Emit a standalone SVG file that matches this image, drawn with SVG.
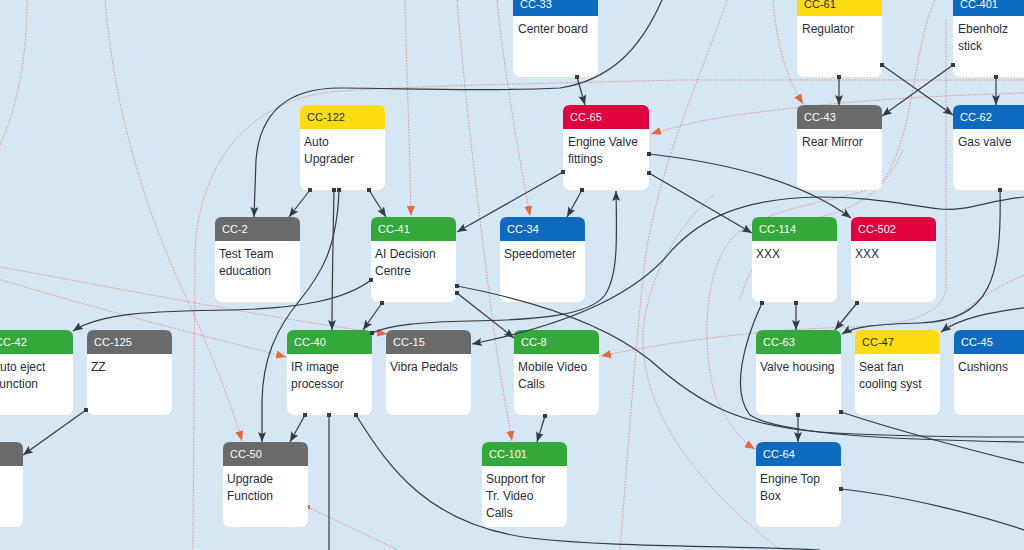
<svg xmlns="http://www.w3.org/2000/svg" width="1024" height="550" viewBox="0 0 1024 550">
<defs>
<style>
.bg{fill:#d5e6f4}
.body{fill:#ffffff}
.hd{font-family:"Liberation Sans",Arial,sans-serif;font-size:11px;fill:#ffffff}
.hdk{font-family:"Liberation Sans",Arial,sans-serif;font-size:11px;fill:#1c2b41}
.tx{font-family:"Liberation Sans",Arial,sans-serif;font-size:12px;fill:#1f2d45}
.green{fill:#35a83b}.gray{fill:#6a6a6a}.blue{fill:#0d6abf}.red{fill:#e0003b}.yellow{fill:#fedc10}
.bl{fill:none;stroke:#333a44;stroke-width:1.2;marker-start:url(#sq);marker-end:url(#ab)}
.bln{fill:none;stroke:#333a44;stroke-width:1.2;marker-start:url(#sq)}
.rd{fill:none;stroke:#e58a78;stroke-width:0.9;stroke-dasharray:1.6 1.4}
.rda{fill:none;stroke:#e58a78;stroke-width:0.9;stroke-dasharray:1.6 1.4;marker-end:url(#ar)}
</style>
<marker id="ab" viewBox="0 0 10 8" refX="10" refY="4" markerWidth="10" markerHeight="8" markerUnits="userSpaceOnUse" orient="auto"><path d="M0,0 L10,4 L0,8 L2,4 Z" fill="#333a44"/></marker>
<marker id="ar" viewBox="0 0 10 8" refX="10" refY="4" markerWidth="10" markerHeight="8" markerUnits="userSpaceOnUse" orient="auto"><path d="M0,0 L10,4 L0,8 Z" fill="#e8663f"/></marker>
<marker id="sq" viewBox="0 0 4 4" refX="2" refY="2" markerWidth="4" markerHeight="4" markerUnits="userSpaceOnUse"><rect width="4" height="4" fill="#333a44"/></marker>
<marker id="sqr" viewBox="0 0 4 4" refX="2" refY="2" markerWidth="4" markerHeight="4" markerUnits="userSpaceOnUse"><rect width="4" height="4" fill="#e8663f"/></marker>
</defs>
<rect class="bg" x="0" y="0" width="1024" height="550"/>

<g id="connectors-dotted">
<path class="rda" d="M405,0 C407,80 410,160 411,216"/>
<path class="rda" d="M497,0 C505,80 520,160 530,216"/>
<path class="rda" d="M773,0 C776,40 785,75 803,104"/>
<path class="rda" d="M1024,93 C950,95 850,100 760,112 C710,118 680,125 651,134"/>
<path class="rd" d="M1024,80 L680,80 C520,84 400,86 330,92 C250,102 200,160 195,250 L193,550"/>
<path class="rda" d="M-5,278 C100,310 200,335 286,357"/>
<path class="rda" d="M-5,266 C100,285 250,315 387,334"/>
<path class="rda" d="M105,0 C115,120 150,220 185,295 C210,350 230,400 242,441"/>
<path class="rd" d="M308,507 L398,550" style="marker-start:url(#sqr)"/>
<path class="rda" d="M457,0 C465,100 480,220 490,300 C497,360 505,400 512,441"/>
<path class="rda" d="M946,20 L946,290 C940,315 910,325 850,327 C760,330 680,340 601,356"/>
<path class="rda" d="M935,0 C912,50 915,140 880,185 C850,200 770,205 735,235 C705,265 700,340 715,395 C725,420 740,440 755,449"/>
<path class="rd" d="M727,0 C700,80 660,160 645,260 C635,350 628,450 620,550"/>
<path class="rd" d="M713,195 C680,225 650,270 643,330 C640,400 680,470 780,550"/>
<path class="rd" d="M1024,275 C990,290 960,310 942,332"/>
<path class="rd" d="M27,0 C27,50 20,100 0,145"/>
<path class="rd" d="M903,150 C890,180 870,205 820,217 C780,225 750,260 740,300"/>
</g>

<g id="n-cc33"><rect class="body" x="513" y="-8" width="85" height="85" rx="7"/><path class="blue" d="M513,16 V-1 Q513,-8 520,-8 H591 Q598,-8 598,-1 V16 Z"/><text class="hd" x="520" y="8">CC-33</text><text class="tx" x="518" y="33">Center board</text></g>
<g id="n-cc61"><rect class="body" x="797" y="-8" width="85" height="85" rx="7"/><path class="yellow" d="M797,16 V-1 Q797,-8 804,-8 H875 Q882,-8 882,-1 V16 Z"/><text class="hdk" x="804" y="8">CC-61</text><text class="tx" x="802" y="33">Regulator</text></g>
<g id="n-cc401"><rect class="body" x="953" y="-8" width="85" height="85" rx="7"/><path class="blue" d="M953,16 V-1 Q953,-8 960,-8 H1031 Q1038,-8 1038,-1 V16 Z"/><text class="hd" x="960" y="8">CC-401</text><text class="tx" x="958" y="33">Ebenholz</text><text class="tx" x="958" y="50">stick</text></g>

<g id="n-cc122"><rect class="body" x="300" y="105" width="85" height="85" rx="7"/><path class="yellow" d="M300,129 V112 Q300,105 307,105 H378 Q385,105 385,112 V129 Z"/><text class="hdk" x="307" y="121">CC-122</text><text class="tx" x="304" y="146">Auto</text><text class="tx" x="304" y="163">Upgrader</text></g>
<g id="n-cc65"><rect class="body" x="563" y="105" width="86" height="85" rx="7"/><path class="red" d="M563,129 V112 Q563,105 570,105 H642 Q649,105 649,112 V129 Z"/><text class="hd" x="570" y="121">CC-65</text><text class="tx" x="568" y="146">Engine Valve</text><text class="tx" x="568" y="163">fittings</text></g>
<g id="n-cc43"><rect class="body" x="797" y="105" width="85" height="85" rx="7"/><path class="gray" d="M797,129 V112 Q797,105 804,105 H875 Q882,105 882,112 V129 Z"/><text class="hd" x="804" y="121">CC-43</text><text class="tx" x="802" y="146">Rear Mirror</text></g>
<g id="n-cc62"><rect class="body" x="953" y="105" width="85" height="85" rx="7"/><path class="blue" d="M953,129 V112 Q953,105 960,105 H1031 Q1038,105 1038,112 V129 Z"/><text class="hd" x="960" y="121">CC-62</text><text class="tx" x="958" y="146">Gas valve</text></g>

<g id="n-cc2"><rect class="body" x="215" y="217" width="85" height="85" rx="7"/><path class="gray" d="M215,241 V224 Q215,217 222,217 H293 Q300,217 300,224 V241 Z"/><text class="hd" x="222" y="233">CC-2</text><text class="tx" x="219" y="258">Test Team</text><text class="tx" x="219" y="275">education</text></g>
<g id="n-cc41"><rect class="body" x="371" y="217" width="85" height="85" rx="7"/><path class="green" d="M371,241 V224 Q371,217 378,217 H449 Q456,217 456,224 V241 Z"/><text class="hd" x="378" y="233">CC-41</text><text class="tx" x="375" y="258">AI Decision</text><text class="tx" x="375" y="275">Centre</text></g>
<g id="n-cc34"><rect class="body" x="500" y="217" width="85" height="85" rx="7"/><path class="blue" d="M500,241 V224 Q500,217 507,217 H578 Q585,217 585,224 V241 Z"/><text class="hd" x="507" y="233">CC-34</text><text class="tx" x="504" y="258">Speedometer</text></g>
<g id="n-cc114"><rect class="body" x="752" y="217" width="85" height="85" rx="7"/><path class="green" d="M752,241 V224 Q752,217 759,217 H830 Q837,217 837,224 V241 Z"/><text class="hd" x="759" y="233">CC-114</text><text class="tx" x="756" y="258">XXX</text></g>
<g id="n-cc502"><rect class="body" x="851" y="217" width="85" height="85" rx="7"/><path class="red" d="M851,241 V224 Q851,217 858,217 H929 Q936,217 936,224 V241 Z"/><text class="hd" x="858" y="233">CC-502</text><text class="tx" x="855" y="258">XXX</text></g>

<g id="n-cc42"><rect class="body" x="-12" y="330" width="85" height="85" rx="7"/><path class="green" d="M-12,354 V337 Q-12,330 -5,330 H66 Q73,330 73,337 V354 Z"/><text class="hd" x="-5" y="346">CC-42</text><text class="tx" x="-8" y="371">Auto eject</text><text class="tx" x="-8" y="388">Function</text></g>
<g id="n-cc125"><rect class="body" x="87" y="330" width="85" height="85" rx="7"/><path class="gray" d="M87,354 V337 Q87,330 94,330 H165 Q172,330 172,337 V354 Z"/><text class="hd" x="94" y="346">CC-125</text><text class="tx" x="91" y="371">ZZ</text></g>
<g id="n-cc40"><rect class="body" x="287" y="330" width="85" height="85" rx="7"/><path class="green" d="M287,354 V337 Q287,330 294,330 H365 Q372,330 372,337 V354 Z"/><text class="hd" x="294" y="346">CC-40</text><text class="tx" x="291" y="371">IR image</text><text class="tx" x="291" y="388">processor</text></g>
<g id="n-cc15"><rect class="body" x="386" y="330" width="85" height="85" rx="7"/><path class="gray" d="M386,354 V337 Q386,330 393,330 H464 Q471,330 471,337 V354 Z"/><text class="hd" x="393" y="346">CC-15</text><text class="tx" x="390" y="371">Vibra Pedals</text></g>
<g id="n-cc8"><rect class="body" x="514" y="330" width="85" height="85" rx="7"/><path class="green" d="M514,354 V337 Q514,330 521,330 H592 Q599,330 599,337 V354 Z"/><text class="hd" x="521" y="346">CC-8</text><text class="tx" x="518" y="371">Mobile Video</text><text class="tx" x="518" y="388">Calls</text></g>
<g id="n-cc63"><rect class="body" x="756" y="330" width="85" height="85" rx="7"/><path class="green" d="M756,354 V337 Q756,330 763,330 H834 Q841,330 841,337 V354 Z"/><text class="hd" x="763" y="346">CC-63</text><text class="tx" x="760" y="371">Valve housing</text></g>
<g id="n-cc47"><rect class="body" x="855" y="330" width="85" height="85" rx="7"/><path class="yellow" d="M855,354 V337 Q855,330 862,330 H933 Q940,330 940,337 V354 Z"/><text class="hdk" x="862" y="346">CC-47</text><text class="tx" x="859" y="371">Seat fan</text><text class="tx" x="859" y="388">cooling syst</text></g>
<g id="n-cc45"><rect class="body" x="954" y="330" width="85" height="85" rx="7"/><path class="blue" d="M954,354 V337 Q954,330 961,330 H1032 Q1039,330 1039,337 V354 Z"/><text class="hd" x="961" y="346">CC-45</text><text class="tx" x="958" y="371">Cushions</text></g>

<g id="n-left"><rect class="body" x="-62" y="442" width="85" height="85" rx="7"/><path class="gray" d="M-62,466 V449 Q-62,442 -55,442 H16 Q23,442 23,449 V466 Z"/></g>
<g id="n-cc50"><rect class="body" x="223" y="442" width="85" height="85" rx="7"/><path class="gray" d="M223,466 V449 Q223,442 230,442 H301 Q308,442 308,449 V466 Z"/><text class="hd" x="230" y="458">CC-50</text><text class="tx" x="227" y="483">Upgrade</text><text class="tx" x="227" y="500">Function</text></g>
<g id="n-cc101"><rect class="body" x="482" y="442" width="85" height="85" rx="7"/><path class="green" d="M482,466 V449 Q482,442 489,442 H560 Q567,442 567,449 V466 Z"/><text class="hd" x="489" y="458">CC-101</text><text class="tx" x="486" y="483">Support for</text><text class="tx" x="486" y="500">Tr. Video</text><text class="tx" x="486" y="517">Calls</text></g>
<g id="n-cc64"><rect class="body" x="756" y="442" width="85" height="85" rx="7"/><path class="blue" d="M756,466 V449 Q756,442 763,442 H834 Q841,442 841,449 V466 Z"/><text class="hd" x="763" y="458">CC-64</text><text class="tx" x="760" y="483">Engine Top</text><text class="tx" x="760" y="500">Box</text></g>

<g id="connectors">
<path class="bl" d="M577,77 L585,105"/>
<path class="bl" d="M839,77 L839,105"/>
<path class="bl" d="M882,65 L953,115"/>
<path class="bl" d="M953,65 L882,116"/>
<path class="bl" d="M996,77 L996,105"/>
<path class="bl" d="M310,190 L289,217"/>
<path class="bl" d="M369,190 L386,217"/>
<path class="bl" d="M334,190 C333,240 332,290 332,330"/>
<path class="bl" d="M339,190 C337,250 320,275 300,300 C275,330 263,360 262,400 L262,442"/>
<path class="bl" d="M662,0 C640,50 610,80 560,88 C480,92 400,88 340,88 C290,88 260,110 256,160 L254,217" style="marker-start:none"/>
<path class="bl" d="M563,172 L457,232"/>
<path class="bl" d="M582,190 L567,217"/>
<path class="bl" d="M649,154 C720,162 800,180 851,218"/>
<path class="bl" d="M649,173 L752,233"/>
<path class="bl" d="M372,333 C390,325 420,322 470,321 C540,320 590,315 605,295 C618,275 617,240 616,191"/>
<path class="bl" d="M1024,197 C990,200 965,212 940,209 C900,204 870,197 820,197 C740,198 700,220 672,250 C640,290 580,322 472,344" style="marker-start:none"/>
<path class="bl" d="M382,303 L363,330"/>
<path class="bl" d="M371,280 C345,300 300,308 233,310 C150,311 100,313 73,331"/>
<path class="bl" d="M457,293 L514,338"/>
<path class="bln" d="M457,286 C520,298 600,320 650,360 C700,405 740,425 820,432 C900,437 980,437 1024,437"/>
<path class="bl" d="M305,415 L290,442"/>
<path class="bln" d="M329,415 L329,550"/>
<path class="bln" d="M356,415 C390,470 430,525 530,538 C620,548 720,545 820,550"/>
<path class="bl" d="M545,416 L537,442"/>
<path class="bl" d="M86,410 L23,455"/>
<path class="bl" d="M796,303 L796,330"/>
<path class="bl" d="M857,303 L835,330"/>
<path class="bl" d="M1000,190 C1002,280 990,320 920,323 C880,324 855,326 842,334"/>
<path class="bl" d="M1030,307 C990,312 960,318 941,332" style="marker-start:none"/>
<path class="bl" d="M798,415 L798,442"/>
<path class="bln" d="M841,412 C880,425 960,448 1024,463"/>
<path class="bln" d="M762,303 C745,340 730,390 750,415 C780,435 900,440 1024,442"/>
<path class="bln" d="M841,489 C900,495 980,515 1024,530"/>
</g>
</svg>
